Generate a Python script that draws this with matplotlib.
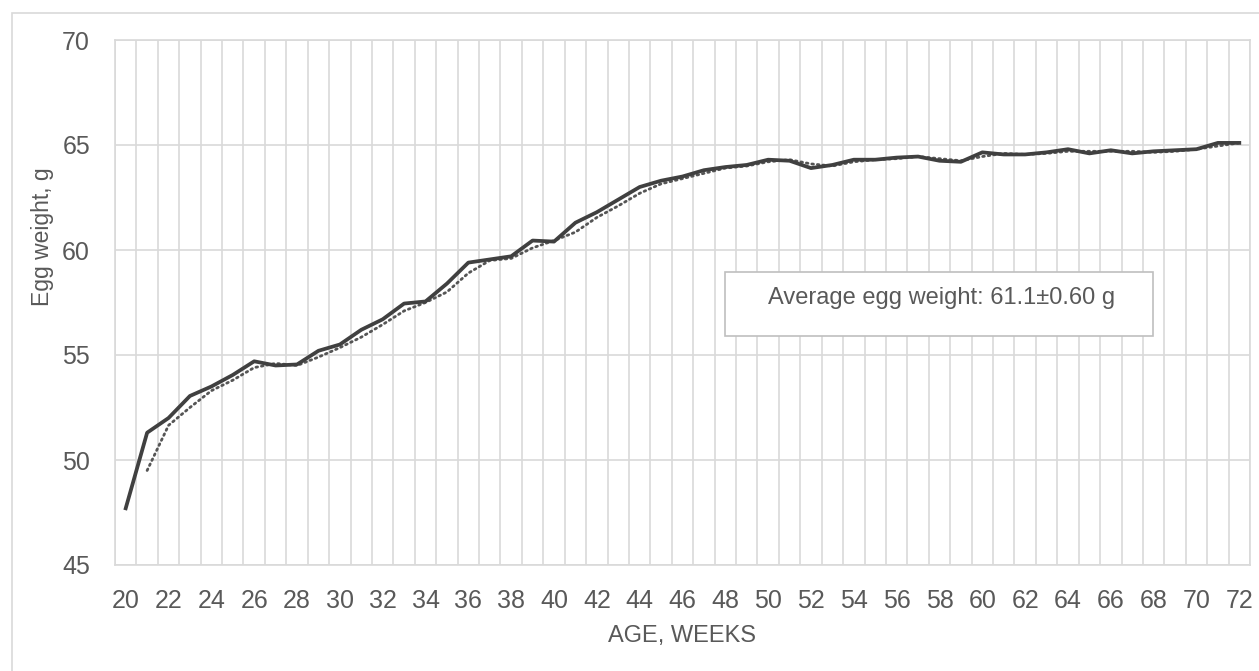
import matplotlib.pyplot as plt
from matplotlib.patches import Rectangle
import numpy as np

# egg weight by age (weeks)
weeks = list(range(20, 73))
egg_weight = [47.7, 51.3, 52.0, 53.05, 53.5, 54.05, 54.7, 54.5, 54.55, 55.2,
              55.5, 56.2, 56.7, 57.45, 57.55, 58.4, 59.4, 59.55, 59.7, 60.45,
              60.4, 61.3, 61.8, 62.4, 63.0, 63.3, 63.5, 63.8, 63.95, 64.05,
              64.3, 64.25, 63.9, 64.05, 64.3, 64.3, 64.4, 64.45, 64.25, 64.2,
              64.65, 64.55, 64.55, 64.65, 64.8, 64.6, 64.75, 64.6, 64.7, 64.75,
              64.8, 65.1, 65.1]

# dotted trend line (moving average), starts at week 21
trend_weeks = list(range(21, 73))
trend_weight = [49.5, 51.65, 52.5, 53.3, 53.8, 54.4, 54.6, 54.5, 54.9, 55.35,
                55.85, 56.45, 57.1, 57.5, 58.0, 58.9, 59.5, 59.6, 60.1, 60.45,
                60.85, 61.55, 62.1, 62.7, 63.15, 63.4, 63.65, 63.9, 64.0, 64.2,
                64.3, 64.1, 64.0, 64.2, 64.3, 64.35, 64.45, 64.35, 64.25, 64.45,
                64.6, 64.55, 64.6, 64.7, 64.7, 64.7, 64.7, 64.65, 64.7, 64.8,
                64.95, 65.1]

x_ticks = list(range(20, 73, 2))
y_ticks = [45, 50, 55, 60, 65, 70]
note = 'Average egg weight: 61.1\u00b10.60 g'

plt.rcParams['font.family'] = ['Liberation Sans', 'DejaVu Sans']
txt_col = '#595959'
grid_col = '#d9d9d9'

W, H = 1259, 671
fig = plt.figure(figsize=(W / 100, H / 100), dpi=100)
ax = fig.add_axes([115 / W, 1 - 565 / H, (1250 - 115) / W, (565 - 40) / H])

# outer chart border
fig.patches.append(Rectangle((12 / W, -0.01), 1.0, 1 - 13 / H + 0.01, transform=fig.transFigure,
                             fill=False, edgecolor='#d9d9d9', lw=1.2))

ax.plot(trend_weeks, trend_weight, color='#555555', lw=2.0,
        linestyle=(0, (0.6, 1.4)), dash_capstyle='round', zorder=3)
ax.plot(weeks, egg_weight, color='#404040', lw=2.7, solid_joinstyle='round', zorder=4)

ax.set_xlim(19.5, 72.5)
ax.set_ylim(45, 70)
ax.set_xticks(x_ticks)
ax.set_xticks(np.arange(19.5, 73, 1), minor=True)
ax.set_yticks(y_ticks)
ax.grid(True, which='minor', axis='x', color=grid_col, lw=1.2)
ax.grid(True, which='major', axis='y', color=grid_col, lw=1.2)
ax.tick_params(which='both', length=0)
ax.tick_params(axis='x', pad=17, labelsize=18, labelcolor=txt_col)
ax.tick_params(axis='y', pad=18, labelsize=18, labelcolor=txt_col)
for s in ax.spines.values():
    s.set_color(grid_col)
    s.set_linewidth(1.2)

fig.text(43 / W, 1 - 237 / H, 'Egg weight, g', rotation=90, ha='center', va='center',
         fontsize=16.5, color=txt_col)
fig.text(682 / W, 1 - 636 / H, 'AGE, WEEKS', ha='center', va='center',
         fontsize=17, color=txt_col)

# annotation box
fig.patches.append(Rectangle((725 / W, 1 - 336 / H), (1153 - 725) / W, (336 - 272) / H,
                             transform=fig.transFigure, facecolor='white',
                             edgecolor='#bfbfbf', lw=1.2, zorder=5))
fig.text(768 / W, 1 - 298 / H, note, ha='left', va='center', fontsize=17,
         color=txt_col, zorder=6)

fig.savefig('out.png', dpi=100)
